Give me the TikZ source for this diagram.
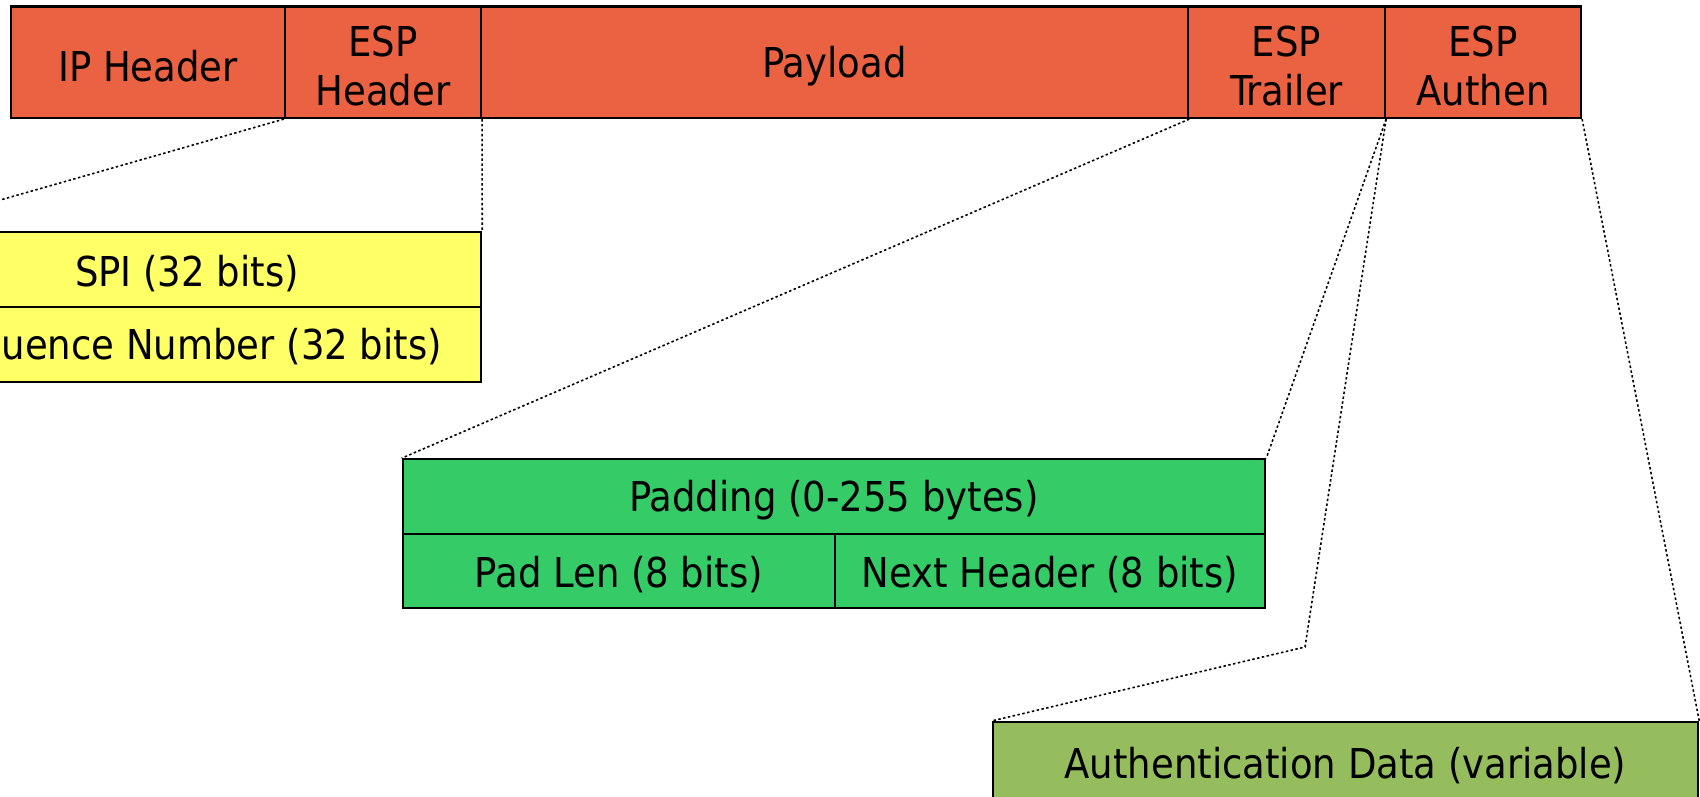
\documentclass[tikz,border=0pt]{standalone}
\usepackage{fontspec}
\setmainfont{DejaVu Sans Condensed}
\begin{document}
\begin{tikzpicture}[x=0.01cm, y=-0.01cm,
  cell/.style={draw=black, line width=0.6pt, inner sep=0pt},
  txt/.style={inner sep=0pt, align=center, yshift=-0.04cm,
    font=\fontsize{11.7}{13.8}\selectfont},
  lbl/.style={label={[txt]center:#1}},
  pkt/.style={cell, fill=espred, minimum height=1.115cm},
  hdr/.style={cell, fill=hdryellow, minimum height=0.75cm},
  trl/.style={cell, fill=trlgreen, minimum height=0.745cm},
  aut/.style={cell, fill=autgreen, minimum height=0.80cm},
  dotline/.style={line width=0.45pt, dash pattern=on 0.7pt off 0.7pt}]
\definecolor{espred}{RGB}{234,98,66}
\definecolor{hdryellow}{RGB}{255,255,102}
\definecolor{trlgreen}{RGB}{53,204,104}
\definecolor{autgreen}{RGB}{149,189,94}

\useasboundingbox (0,0) rectangle (1700,796);
\clip (0,0) rectangle (1700,796);

% ESP packet
\node[pkt, minimum width=2.74cm, lbl={IP Header}]     (ip)      at (148,62.25)    {};
\node[pkt, minimum width=1.96cm, lbl={ESP\\Header}]   (esph)    at (383,62.25)    {};
\node[pkt, minimum width=7.07cm, lbl={Payload}]       (payload) at (834.5,62.25)  {};
\node[pkt, minimum width=1.97cm, lbl={ESP\\Trailer}]  (trailer) at (1286.5,62.25) {};
\node[pkt, minimum width=1.96cm, lbl={ESP\\Authen}]   (authen)  at (1483,62.25)   {};

% ESP header fields
\node[hdr, minimum width=5.88cm, lbl={SPI (32 bits)}]             (spi) at (187,269.5) {};
\node[hdr, minimum width=5.88cm, lbl={Sequence Number (32 bits)}] (seq) at (187,344.5) {};

% ESP trailer fields
\node[trl, minimum width=8.62cm, lbl={Padding (0-255 bytes)}] (padding) at (834,496.5)  {};
\node[trl, minimum width=4.32cm, lbl={Pad Len (8 bits)}]      (padlen)  at (619,571)    {};
\node[trl, minimum width=4.30cm, lbl={Next Header (8 bits)}]  (nexthdr) at (1050,571)   {};

% ESP authentication field
\node[aut, minimum width=7.05cm, lbl={Authentication Data (variable)}] (authdata) at (1345.5,762) {};

% expansion guides
\coordinate (bend) at (1305,647);
\draw[dotline] (esph.south west) -- (spi.north west);
\draw[dotline] (esph.south east) -- (spi.north east);
\draw[dotline] (payload.south east) -- (padding.north west);
\draw[dotline] (trailer.south east) -- (padding.north east);
\draw[dotline] (trailer.south east) -- (bend) -- (authdata.north west);
\draw[dotline] (authen.south east) -- (authdata.north east);
\end{tikzpicture}
\end{document}
